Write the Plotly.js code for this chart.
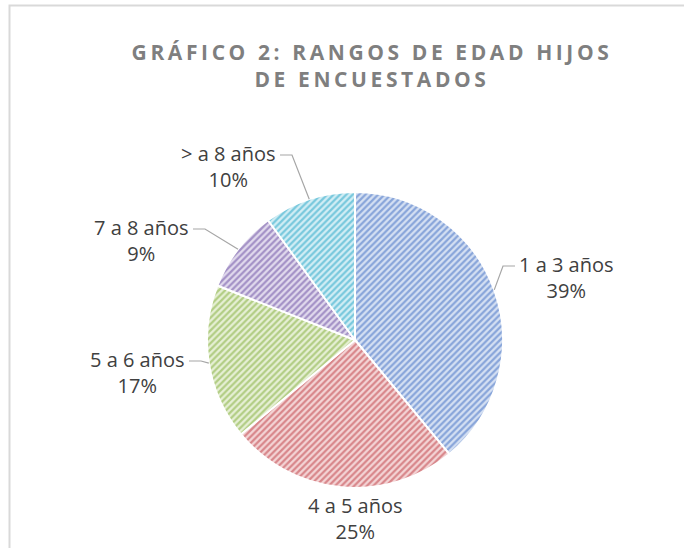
<!DOCTYPE html>
<html>
<head>
<meta charset="utf-8">
<script src="https://cdn.plot.ly/plotly-3.0.1.min.js"></script>
<style>
  html, body { margin: 0; padding: 0; background: #ffffff; }
  #chart { width: 684px; height: 548px; }
  .gtitle { letter-spacing: 3.6px; }
</style>
</head>
<body>
<div id="chart"></div>
<script>
// ---- data ----
const categories = ['1 a 3 años', '4 a 5 años', '5 a 6 años', '7 a 8 años', '> a 8 años'];
const percentages = [39, 25, 17, 9, 10];
const chartTitle = 'GRÁFICO 2: RANGOS DE EDAD HIJOS<br>DE ENCUESTADOS';

// ---- styling / layout ----
const W = 684, H = 548;
const stripeColors = ['#88a5da', '#d8868a', '#b2cd84', '#a391c6', '#78c8dd'];
const backColors   = ['#d6e1f3', '#f4d6d7', '#e7f0d6', '#e2dbee', '#d3eef5'];
const PIE_DOMAIN = { x: [207 / W, 503 / W], y: [1 - 488 / H, 1 - 192 / H] };
// elbow point of each label's leader line, as pixel offset from the pie centre
const LABEL_ELBOW = [[148, -74], [0, 178], [-154, 21], [-150, -111], [-63, -185]];
const labelFont = { family: 'Open Sans, sans-serif', size: 20, color: '#404040' };

const cx = (PIE_DOMAIN.x[0] + PIE_DOMAIN.x[1]) / 2 * W;
const cy = (1 - (PIE_DOMAIN.y[0] + PIE_DOMAIN.y[1]) / 2) * H;
const r = Math.min((PIE_DOMAIN.x[1] - PIE_DOMAIN.x[0]) * W, (PIE_DOMAIN.y[1] - PIE_DOMAIN.y[0]) * H) / 2;
const px = v => v / W, py = v => 1 - v / H;

const total = percentages.reduce((a, b) => a + b, 0);
const annotations = [];
const shapes = [{
  type: 'rect', xref: 'paper', yref: 'paper',
  x0: px(9.5), x1: 1.2, y0: -0.2, y1: py(5.5),
  line: { color: '#d9d9d9', width: 2 }, fillcolor: 'rgba(0,0,0,0)', layer: 'below'
}];

let cum = 0;
percentages.forEach((v, i) => {
  const mid = (cum + v / 2) / total * 2 * Math.PI;
  cum += v;
  const ex = cx + r * Math.sin(mid), ey = cy - r * Math.cos(mid);
  const kx = cx + LABEL_ELBOW[i][0], ky = cy + LABEL_ELBOW[i][1];
  const text = categories[i] + '<br>' + v + '%';
  if (Math.abs(LABEL_ELBOW[i][0]) < 20) {
    annotations.push({ xref: 'paper', yref: 'paper', x: px(kx), y: py(ky), xanchor: 'center', yanchor: 'middle',
      text: text, showarrow: false, font: labelFont, align: 'center' });
  } else {
    const side = LABEL_ELBOW[i][0] > 0 ? 1 : -1;
    const tx = kx + side * 12;
    shapes.push({ type: 'path', xref: 'paper', yref: 'paper',
      path: 'M ' + px(ex) + ' ' + py(ey) + ' L ' + px(kx) + ' ' + py(ky) + ' L ' + px(tx) + ' ' + py(ky),
      line: { color: '#a6a6a6', width: 1.2 } });
    annotations.push({ xref: 'paper', yref: 'paper', x: px(tx + side * 2), y: py(ky + 11),
      xanchor: side > 0 ? 'left' : 'right', yanchor: 'middle',
      text: text, showarrow: false, font: labelFont, align: 'center' });
  }
});

const trace = {
  type: 'pie',
  labels: categories,
  values: percentages,
  sort: false,
  direction: 'clockwise',
  rotation: 0,
  textinfo: 'none',
  hoverinfo: 'label+percent',
  domain: PIE_DOMAIN,
  marker: {
    colors: backColors,
    line: { color: '#ffffff', width: 2 },
    pattern: { shape: '/', fgcolor: stripeColors, bgcolor: backColors, size: 4.5, solidity: 0.5 }
  },
  showlegend: false
};

const layout = {
  width: W, height: H,
  margin: { l: 0, r: 0, t: 0, b: 0 },
  paper_bgcolor: '#ffffff',
  showlegend: false,
  title: {
    text: chartTitle,
    font: { family: 'Open Sans, sans-serif', size: 21, color: '#7f7f7f', weight: 'bold' },
    x: 372 / W, xanchor: 'center',
    y: py(60), yanchor: 'top', yref: 'paper'
  },
  annotations: annotations,
  shapes: shapes
};

Plotly.newPlot('chart', [trace], layout, { displayModeBar: false, staticPlot: true });
</script>
</body>
</html>
